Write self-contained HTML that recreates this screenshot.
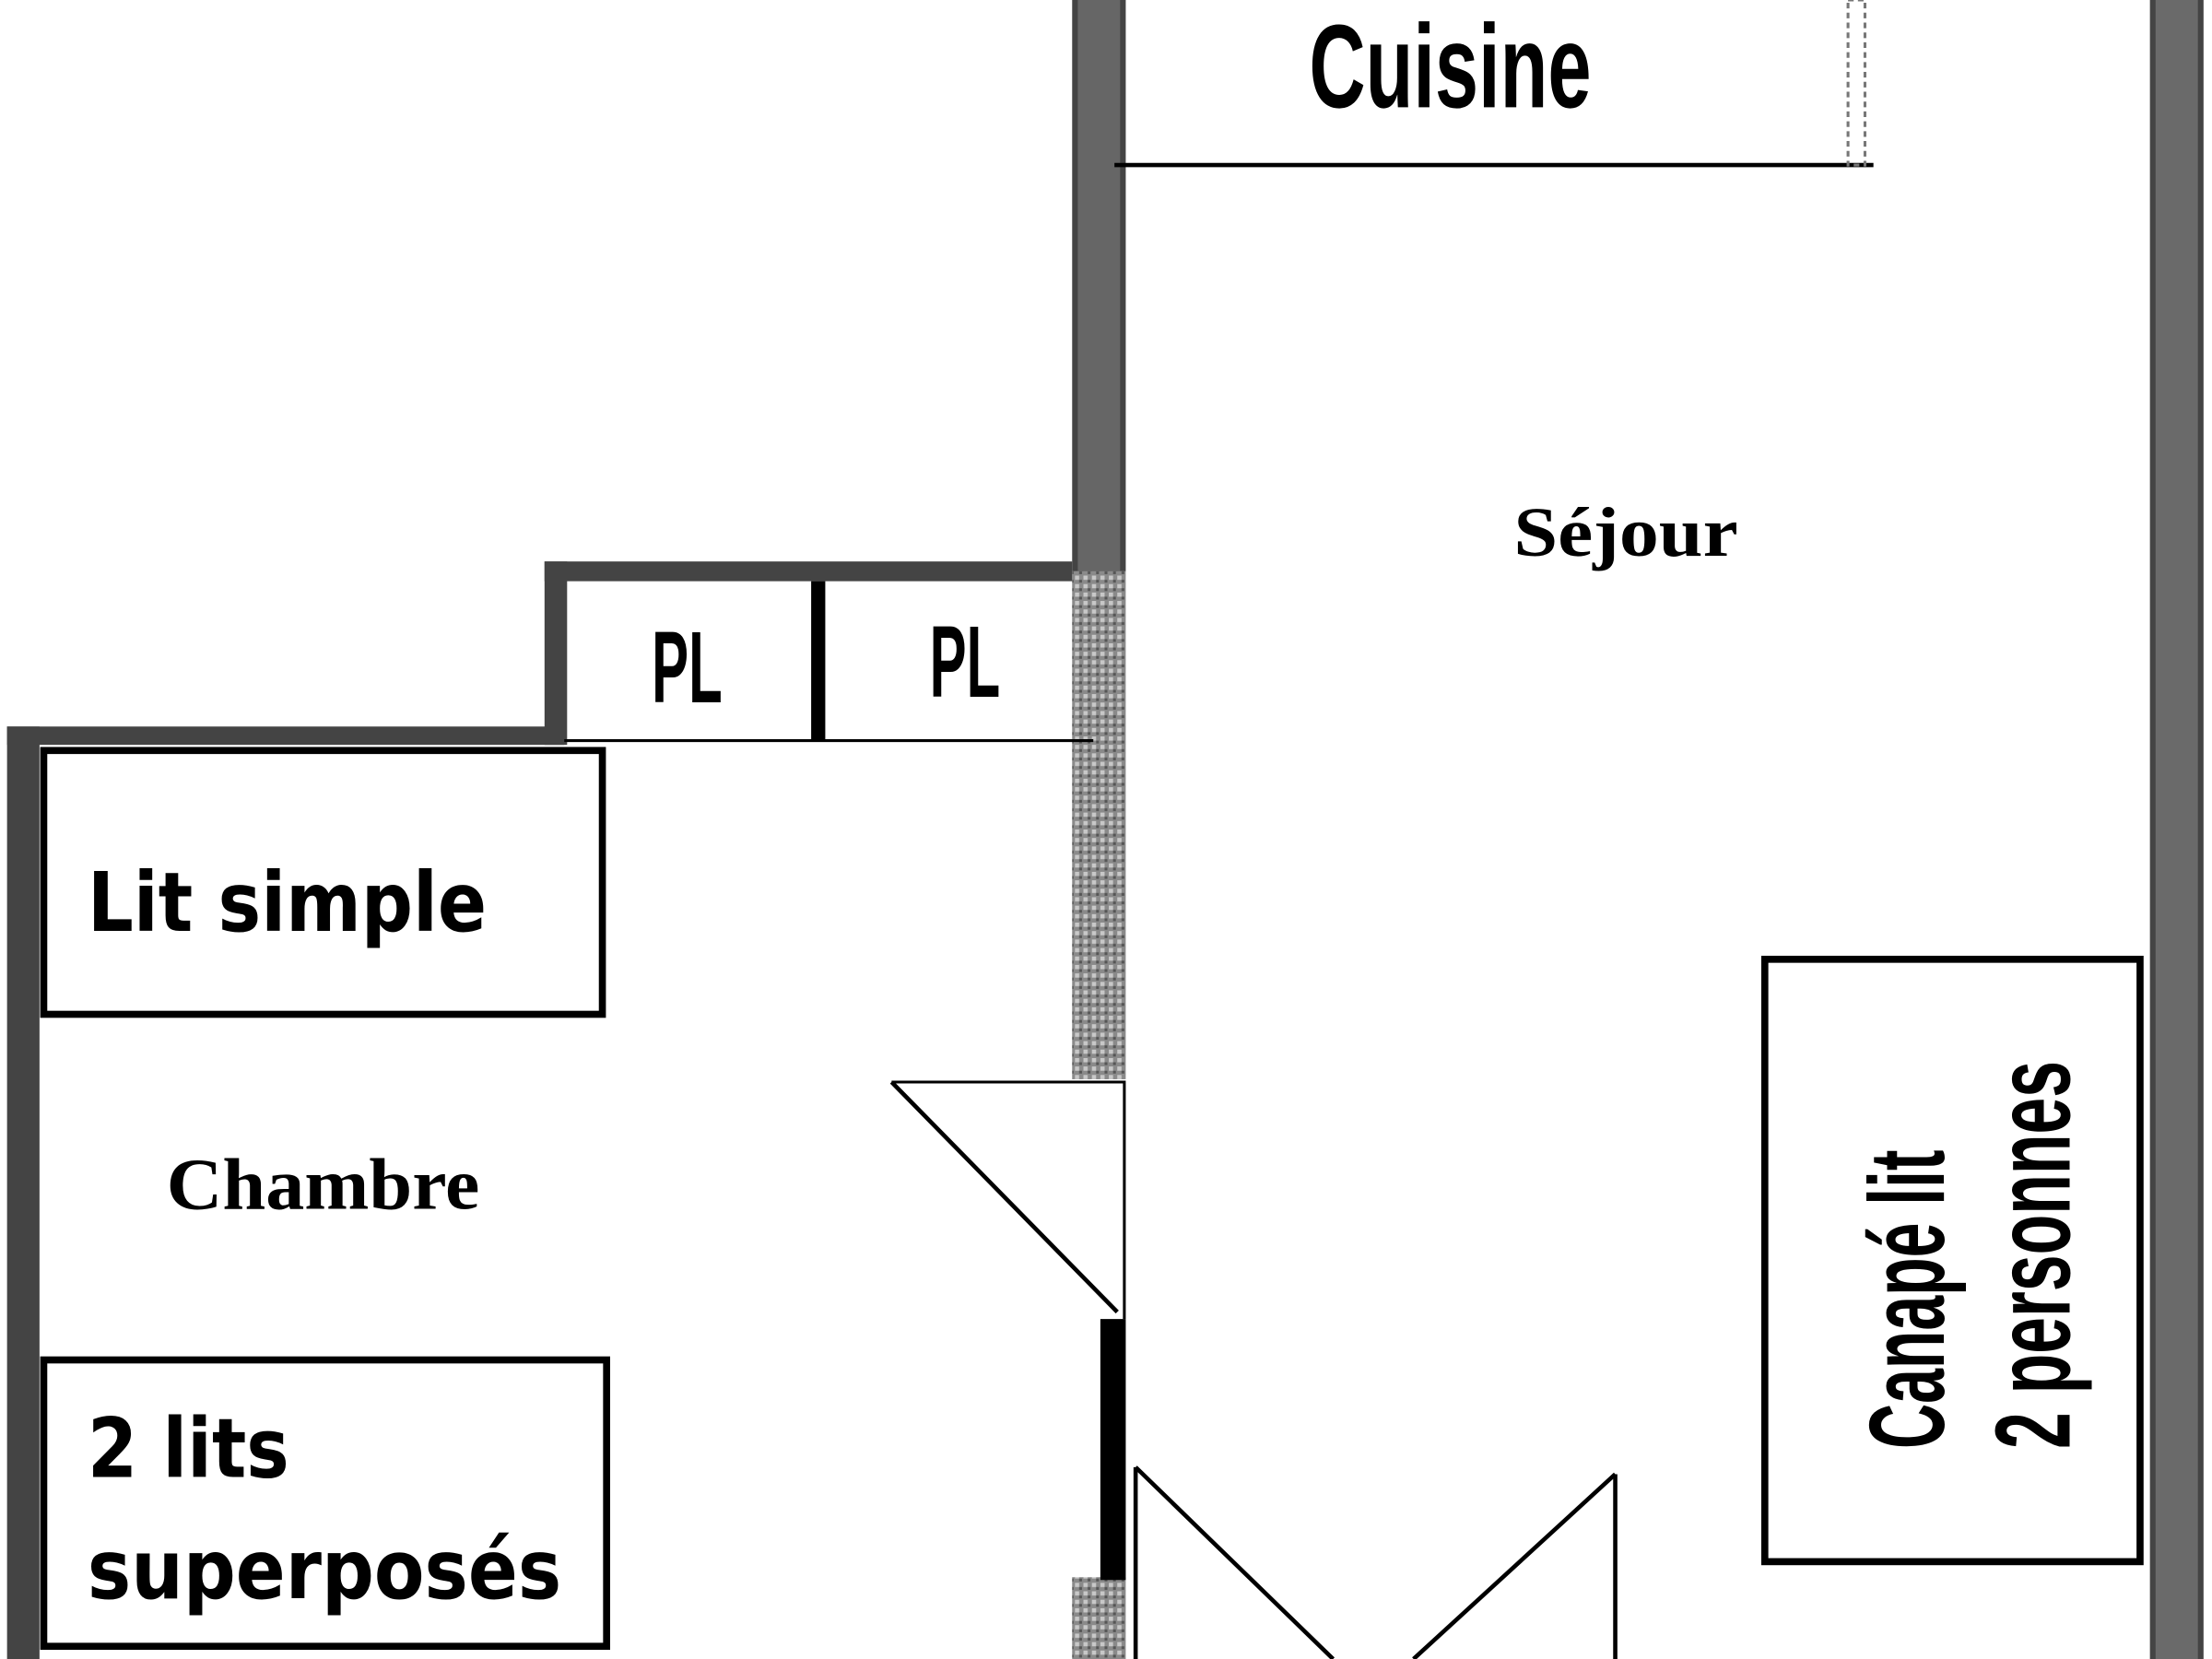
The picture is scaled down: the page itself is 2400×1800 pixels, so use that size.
<!DOCTYPE html>
<html><head><meta charset="utf-8"><style>
html,body{margin:0;padding:0;background:#fff;}
svg{display:block;}
.c{font-family:"Liberation Sans Narrow","Liberation Sans",sans-serif;font-weight:bold;fill:#000;}
.s{font-family:"Liberation Serif",serif;font-weight:bold;fill:#000;}
.a{font-family:"DejaVu Sans","Liberation Sans",sans-serif;font-weight:bold;fill:#000;}
</style></head><body>
<svg width="2400" height="1800" viewBox="0 0 1568 1176" preserveAspectRatio="none" xmlns="http://www.w3.org/2000/svg">
<defs>
<pattern id="tx" width="6" height="6" patternUnits="userSpaceOnUse">
<rect width="6" height="6" fill="#8a8a8a"/><rect x="0" y="0" width="3" height="3" fill="#c8c8c8"/><rect x="3" y="3" width="2" height="2" fill="#555"/>
</pattern>
</defs>
<rect width="1568" height="1176" fill="#fff"/>
<!-- central wall -->
<rect x="760" y="0" width="38" height="405" fill="#444"/>
<rect x="764" y="0" width="30" height="405" fill="#666"/>
<rect x="760" y="405" width="38" height="360" fill="url(#tx)"/>
<rect x="760" y="1118" width="38" height="58" fill="url(#tx)"/>
<rect x="780" y="935" width="18" height="185" fill="#000"/>
<!-- right wall -->
<rect x="1524" y="0" width="38" height="1176" fill="#444"/>
<rect x="1528" y="0" width="30" height="1176" fill="#6a6a6a"/>
<!-- left wall -->
<rect x="5" y="515" width="23" height="661" fill="#444"/>
<rect x="5" y="515" width="395" height="13" fill="#444"/>
<!-- closets -->
<rect x="386" y="398" width="16" height="130" fill="#444"/>
<rect x="386" y="398" width="374" height="14" fill="#444"/>
<rect x="575" y="412" width="10" height="112" fill="#000"/>
<line x1="400" y1="525" x2="775" y2="525" stroke="#000" stroke-width="2"/>
<!-- kitchen -->
<line x1="790" y1="117" x2="1328" y2="117" stroke="#000" stroke-width="3"/>
<rect x="1310" y="0" width="12" height="117" fill="none" stroke="#777" stroke-width="2" stroke-dasharray="4 3"/>
<!-- furniture -->
<rect x="31" y="532" width="396" height="187" fill="none" stroke="#000" stroke-width="5"/>
<rect x="31" y="964" width="399" height="203" fill="none" stroke="#000" stroke-width="5"/>
<rect x="1251" y="680" width="266" height="427" fill="none" stroke="#000" stroke-width="5"/>
<!-- doors -->
<polyline points="632,767 797,767 797,935" fill="none" stroke="#000" stroke-width="2"/>
<line x1="632" y1="767" x2="792" y2="930" stroke="#000" stroke-width="3"/>
<line x1="805" y1="1040" x2="805" y2="1176" stroke="#000" stroke-width="3"/>
<line x1="805" y1="1040" x2="945" y2="1176" stroke="#000" stroke-width="3"/>
<line x1="1145" y1="1045" x2="1145" y2="1176" stroke="#000" stroke-width="3"/>
<line x1="1145" y1="1045" x2="1002" y2="1176" stroke="#000" stroke-width="3"/>
<!-- labels -->
<text class="c" x="928" y="76" font-size="84" textLength="200" lengthAdjust="spacingAndGlyphs">Cuisine</text>
<text class="c" x="462" y="498" font-size="72" textLength="50" lengthAdjust="spacingAndGlyphs">PL</text>
<text class="c" x="659" y="494" font-size="72" textLength="50" lengthAdjust="spacingAndGlyphs">PL</text>
<text class="s" x="1073" y="394" font-size="50" textLength="159" lengthAdjust="spacingAndGlyphs">Séjour</text>
<text class="s" x="118" y="857" font-size="52" textLength="222" lengthAdjust="spacingAndGlyphs">Chambre</text>
<text class="a" x="62" y="660" font-size="58" textLength="283" lengthAdjust="spacingAndGlyphs">Lit simple</text>
<text class="a" x="62" y="1047" font-size="58" textLength="143" lengthAdjust="spacingAndGlyphs">2 lits</text>
<text class="a" x="62" y="1133" font-size="58" textLength="336" lengthAdjust="spacingAndGlyphs">superposés</text>
<text class="c" font-size="76" textLength="212" lengthAdjust="spacingAndGlyphs" transform="translate(1378,1027) rotate(-90)">Canapé lit</text>
<text class="c" font-size="76" textLength="275" lengthAdjust="spacingAndGlyphs" transform="translate(1467,1027) rotate(-90)">2 personnes</text>
</svg>
</body></html>
